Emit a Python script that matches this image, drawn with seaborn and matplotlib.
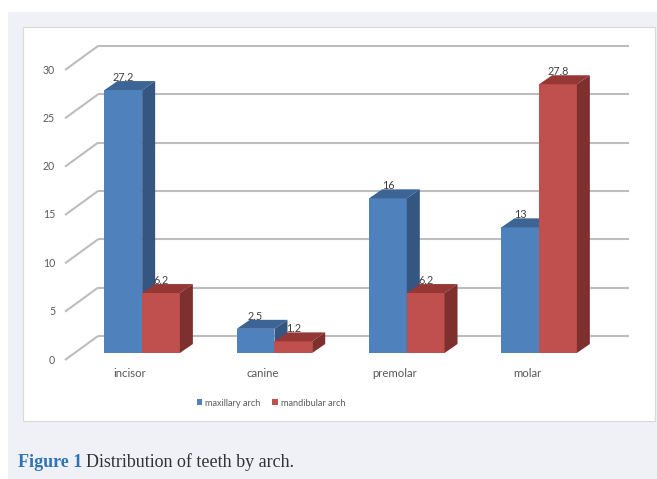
import matplotlib
matplotlib.use("Agg")
import matplotlib.pyplot as plt
import pandas as pd
import seaborn as sns
from matplotlib.patches import Polygon, Rectangle, Patch
from matplotlib.transforms import ScaledTranslation

# ---- data ----
teeth = ["incisor", "canine", "premolar", "molar"]
maxillary = [27.2, 2.5, 16, 13]
mandibular = [6.2, 1.2, 6.2, 27.8]
series_names = ["maxillary arch", "mandibular arch"]
y_ticks = [0, 5, 10, 15, 20, 25, 30]

df = pd.DataFrame({
    "tooth": teeth * 2,
    "count": maxillary + mandibular,
    "arch": [series_names[0]] * len(teeth) + [series_names[1]] * len(teeth),
})

front_colors = {series_names[0]: "#4f81bd", series_names[1]: "#c0504d"}
top_colors = ["#3c6494", "#953735"]
side_colors = ["#345680", "#7d302e"]
grid_color = "#bdbdbd"
text_gray = "#595959"

sns.set_theme(style="white")
plt.rcParams["font.family"] = ["Lato", "DejaVu Sans"]

W, H = 657, 479
DPI = 100
fig = plt.figure(figsize=(W / DPI, H / DPI), dpi=DPI)
fig.patch.set_facecolor("white")

# page panel and chart frame (behind the axes)
fig.patches.append(Rectangle((8 / W, 0), 1, (H - 12) / H, transform=fig.transFigure,
                             facecolor="#eff1f7", edgecolor="none", zorder=-3))
fig.patches.append(Rectangle((23 / W, (H - 421) / H), (655 - 23) / W, (421 - 27) / H,
                             transform=fig.transFigure, facecolor="white",
                             edgecolor="#d9d9d9", lw=0.8, zorder=-2))

# plotting plane = front face of the bars
ax_l, ax_b, ax_w, ax_h = 76, H - 353, 529.3, 290
ax = fig.add_axes([ax_l / W, ax_b / H, ax_w / W, ax_h / H])
ax.set_facecolor("none")

sns.barplot(data=df, x="tooth", y="count", hue="arch", palette=front_colors,
            width=0.57, saturation=1, errorbar=None, legend=False, ax=ax)

ax.set_xlim(-0.5, 3.5)
ax.set_ylim(0, 30)
for s in ax.spines.values():
    s.set_visible(False)
ax.set_xlabel("")
ax.set_ylabel("")

sx = ax_w / 4.0      # px per category
sy = ax_h / 30.0     # px per unit

def px(dx, dy):
    return dx / sx, dy / sy

# bar depth, back wall and floor front edge offsets (in pixels)
bdx, bdy = px(13, 9)
wdx, wdy = px(22, 17)
fdx, fdy = px(-11, -7)

# gridlines: back wall + left side wall
for v in y_ticks:
    ax.plot([-0.5 + wdx, 3.5 + wdx + px(2, 0)[0]], [v + wdy, v + wdy],
            color=grid_color, lw=1.5, clip_on=False, zorder=1,
            solid_capstyle="butt")
    ax.plot([-0.5 + fdx, -0.5 + wdx], [v + fdy, v + wdy],
            color=grid_color, lw=1.5, clip_on=False, zorder=1,
            solid_capstyle="butt")

# 3D top and side faces of the bars
for i, cont in enumerate(ax.containers):
    base_z = 2 + i
    for bar in cont.patches:
        bar.set_zorder(base_z)
        bar.set_edgecolor("none")
        x0 = bar.get_x()
        w = bar.get_width()
        h = bar.get_height()
        top = Polygon([(x0, h), (x0 + w, h), (x0 + w + bdx, h + bdy), (x0 + bdx, h + bdy)],
                      closed=True, facecolor=top_colors[i], edgecolor="none",
                      zorder=base_z + 0.5, clip_on=False)
        side = Polygon([(x0 + w, 0), (x0 + w, h), (x0 + w + bdx, h + bdy), (x0 + w + bdx, bdy)],
                       closed=True, facecolor=side_colors[i], edgecolor="none",
                       zorder=base_z + 0.5, clip_on=False)
        ax.add_patch(top)
        ax.add_patch(side)
    labels = [f"{b.get_height():g}" for b in cont.patches]
    for t in ax.bar_label(cont, labels=labels, padding=5, fontsize=7.8, color="#404040"):
        t.set_zorder(6)

# tick labels sit on the front edge of the floor / side wall
ax.set_yticks(y_ticks)
ax.tick_params(axis="y", length=0, pad=0, labelsize=7.6, labelcolor=text_gray)
ax.tick_params(axis="x", length=0, pad=0, labelsize=8.2, labelcolor=text_gray)
for lab in ax.get_yticklabels():
    lab.set_transform(lab.get_transform() + ScaledTranslation(-21 / DPI, -6 / DPI, fig.dpi_scale_trans))
for lab in ax.get_xticklabels():
    lab.set_transform(lab.get_transform() + ScaledTranslation(-12 / DPI, -15 / DPI, fig.dpi_scale_trans))

# legend
handles = [Patch(facecolor=front_colors[n], edgecolor="none") for n in series_names]
fig.legend(handles, series_names, loc="center", bbox_to_anchor=(271 / W, 1 - 403 / H),
           ncol=2, frameon=False, fontsize=6.6, handlelength=0.6, handleheight=0.6,
           columnspacing=1.3, handletextpad=0.3, labelcolor=text_gray)

# caption
renderer = fig.canvas.get_renderer()
t1 = fig.text(18 / W, 1 - 467 / H, "Figure 1", fontfamily="Liberation Serif",
              fontweight="bold", color="#2e74b5", fontsize=13, va="baseline")
bb = t1.get_window_extent(renderer)
fig.text(bb.x1 / W + 4 / W, 1 - 467 / H, "Distribution of teeth by arch.",
         fontfamily="Liberation Serif", color="#333333", fontsize=13, va="baseline")

fig.savefig("out.png", dpi=DPI)
